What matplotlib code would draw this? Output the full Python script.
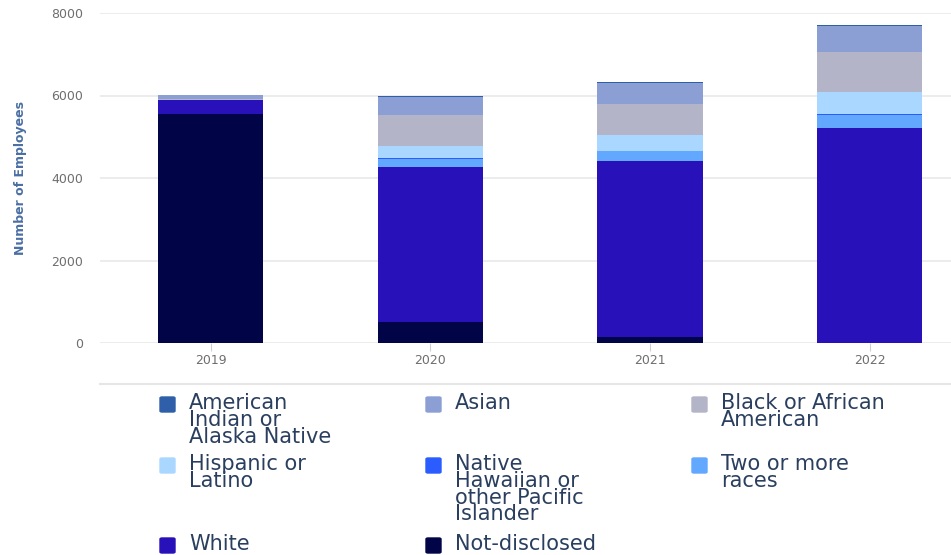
import matplotlib.pyplot as plt
import matplotlib.patches as mpatches
import numpy as np

years = ["2019", "2020", "2021", "2022"]

# employee counts per group, stacked bottom -> top
not_disclosed   = [5560, 517, 136, 0]
white           = [325, 3750, 4275, 5206]
two_or_more     = [0, 205, 250, 330]
native_hawaiian = [0, 5, 5, 10]
hispanic        = [0, 300, 370, 540]
black           = [30, 760, 760, 980]
asian           = [90, 430, 495, 620]
american_indian = [10, 25, 25, 25]

stack = [
    ("Not-disclosed", not_disclosed, "#020448"),
    ("White", white, "#2811b9"),
    ("Two or more\nraces", two_or_more, "#62a8ff"),
    ("Native\nHawaiian or\nother Pacific\nIslander", native_hawaiian, "#2a5cff"),
    ("Hispanic or\nLatino", hispanic, "#a9d7ff"),
    ("Black or African\nAmerican", black, "#b4b4c8"),
    ("Asian", asian, "#8c9fd4"),
    ("American\nIndian or\nAlaska Native", american_indian, "#2f5fa8"),
]
colors = {name: c for name, _, c in stack}

# legend grid: rows of entries, three columns
legend_rows = [
    ["American\nIndian or\nAlaska Native", "Asian", "Black or African\nAmerican"],
    ["Hispanic or\nLatino", "Native\nHawaiian or\nother Pacific\nIslander", "Two or more\nraces"],
    ["White", "Not-disclosed", None],
]

W, H = 951, 555
fig = plt.figure(figsize=(W / 100, H / 100), dpi=100)
ax = fig.add_axes([100 / W, 1 - 343 / H, 851 / W, 330 / H])

x = np.arange(len(years))
bottom = np.zeros(len(years))
for name, vals, c in stack:
    ax.bar(x, vals, width=0.48, bottom=bottom, color=c, linewidth=0)
    bottom += np.array(vals)

ax.set_ylim(0, 8000)
ax.set_xlim(-0.503, 3.37)
ax.set_yticks([0, 2000, 4000, 6000, 8000])
ax.set_xticks(x)
ax.set_xticklabels(years)
ax.yaxis.grid(True, color="#ebebeb", linewidth=1.3)
ax.set_axisbelow(True)
for s in ax.spines.values():
    s.set_visible(False)
ax.tick_params(axis="y", length=0, pad=12, labelsize=9, labelcolor="#6e6e6e")
ax.tick_params(axis="x", length=6, width=0.8, color="#d0d0d0", pad=2,
               labelsize=9, labelcolor="#6e6e6e")
ax.set_ylabel("Number of Employees", fontsize=9, fontweight="bold",
              color="#4b6fa3")
ax.yaxis.set_label_coords(-0.086, 0.5)

# separator above the legend
fig.add_artist(plt.Line2D([100 / W, 1], [1 - 384 / H] * 2, color="#e6e6e6",
                          linewidth=1.5))

col_x = [160, 426, 692]
row_y = [397, 458, 538]
for r, row in enumerate(legend_rows):
    for c, name in enumerate(row):
        if name is None:
            continue
        px, py = col_x[c], row_y[r]
        fig.add_artist(mpatches.FancyBboxPatch(
            (px / W, 1 - (py + 15) / H), 15 / W, 15 / H,
            boxstyle="round,pad=0,rounding_size=0.002",
            transform=fig.transFigure, color=colors[name]))
        fig.text((px + 29) / W, 1 - (py - 4) / H, name, fontsize=15,
                 color="#2a3f5f", va="top", ha="left", linespacing=0.8)

fig.savefig("out.png", dpi=100)
